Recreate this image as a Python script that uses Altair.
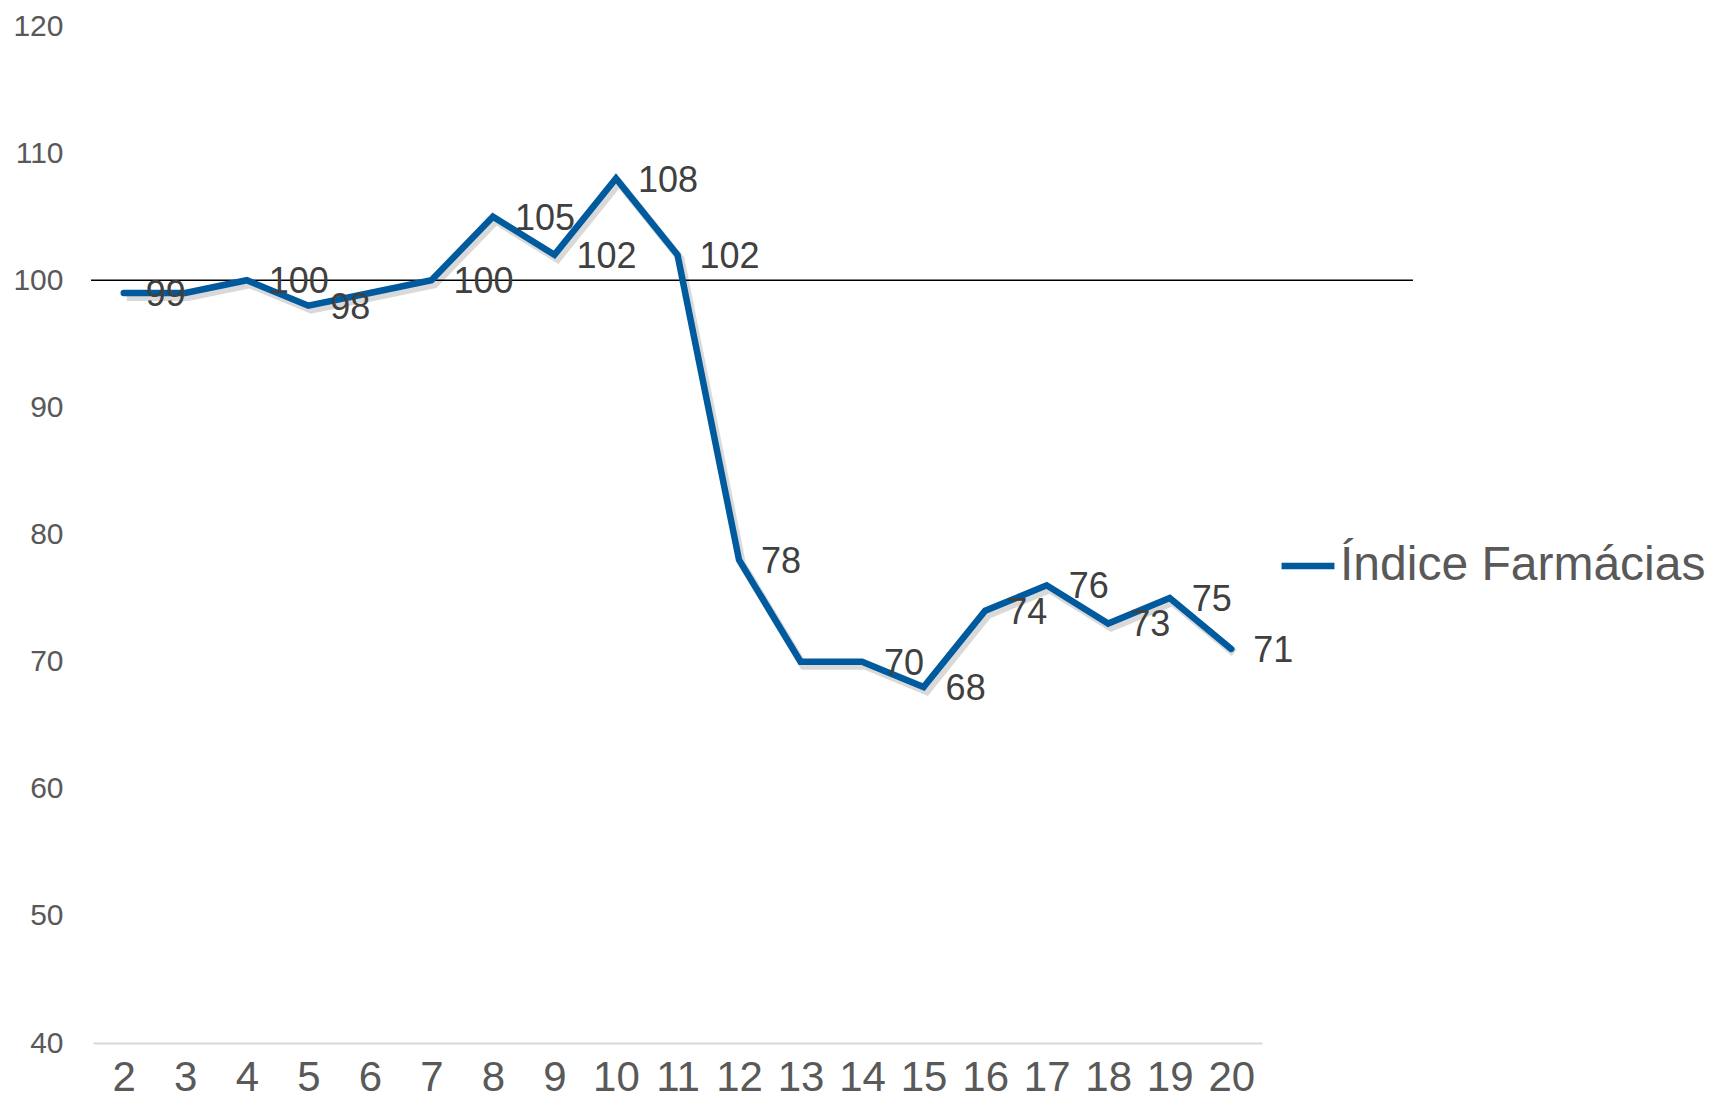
import altair as alt
import pandas as pd

periods = [2, 3, 4, 5, 6, 7, 8, 9, 10, 11, 12, 13, 14, 15, 16, 17, 18, 19, 20]
values = [99, 99, 100, 98, 99, 100, 105, 102, 108, 102, 78, 70, 70, 68, 74, 76, 73, 75, 71]
labels = ["99", "", "100", "98", "", "100", "105", "102", "108", "102", "78", "", "70", "68", "74", "76", "73", "75", "71"]
series_name = "Índice Farmácias"
reference_value = [100]
y_ticks = [40, 50, 60, 70, 80, 90, 100, 110, 120]

FONT = "Liberation Sans"
BLUE = "#005A9E"

df = pd.DataFrame({"period": periods, "value": values, "label": labels, "series": series_name})
ref = pd.DataFrame({"ref": reference_value})

x_enc = alt.X(
    "period:O",
    sort=periods,
    scale=alt.Scale(type="point", padding=0.5),
    axis=alt.Axis(
        title=None, labelAngle=0, ticks=False, domain=True, domainColor="#D9D9D9",
        domainWidth=2, labelFontSize=42, labelColor="#595959", labelFont=FONT,
        labelPadding=14, grid=False,
    ),
)
y_scale = alt.Scale(domain=[40, 120], nice=False, zero=False)
y_enc = alt.Y(
    "value:Q",
    scale=y_scale,
    axis=alt.Axis(
        title=None, values=y_ticks, ticks=False, domain=False, grid=False,
        labelFontSize=30, labelColor="#595959", labelFont=FONT, labelPadding=30,
    ),
)

base = alt.Chart(df)

shadow = base.mark_line(
    color="#000000", opacity=0.15, strokeWidth=8, xOffset=3, yOffset=4,
    strokeJoin="miter", strokeCap="butt",
).encode(x=x_enc, y=y_enc)

line = base.mark_line(strokeWidth=6.5, strokeJoin="miter", strokeCap="round").encode(
    x=x_enc,
    y=y_enc,
    color=alt.Color(
        "series:N",
        scale=alt.Scale(domain=[series_name], range=[BLUE]),
        legend=alt.Legend(
            title=None, orient="none", legendX=1185, legendY=510,
            symbolType="stroke", symbolStrokeWidth=6.5, symbolSize=2800,
            labelFontSize=48, labelColor="#595959", labelFont=FONT,
            labelOffset=2, padding=0, labelLimit=0,
        ),
    ),
)

texts = base.transform_filter(alt.datum.label != "").mark_text(
    align="left", baseline="middle", dx=22, dy=2, fontSize=36, font=FONT, color="#404040",
).encode(x=x_enc, y=y_enc, text="label:N")

rule = alt.Chart(ref).mark_rule(color="#000000", strokeWidth=1.4).encode(
    y=alt.Y("ref:Q", scale=y_scale),
    x=alt.value(-2),
    x2=alt.value(1320),
)

chart = alt.layer(rule, shadow, line, texts).properties(
    width=1169,
    height=1017,
    autosize=alt.AutoSizeParams(type="none"),
    padding={"left": 85, "top": 18, "right": 444, "bottom": 62},
).configure(font=FONT).configure_view(stroke=None, strokeWidth=0)

chart.save("out.html", embed_options={"renderer": "svg", "actions": False})
